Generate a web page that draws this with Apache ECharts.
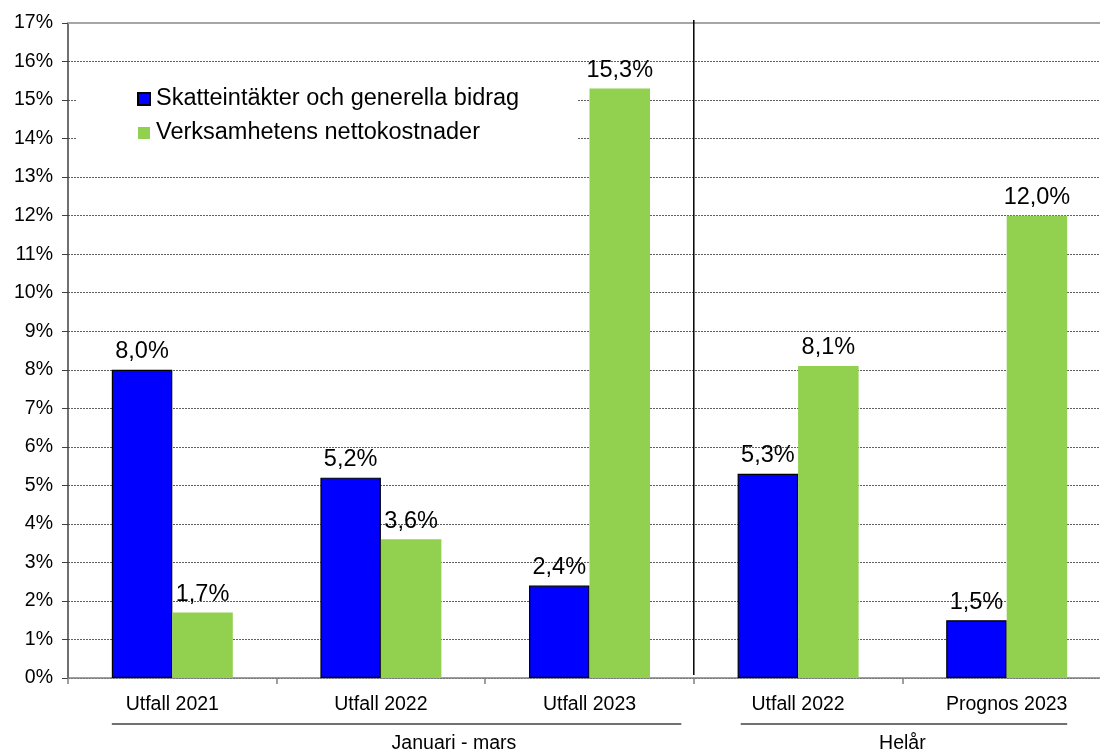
<!DOCTYPE html>
<html>
<head>
<meta charset="utf-8">
<script src="https://cdn.jsdelivr.net/npm/echarts@6/dist/echarts.min.js"></script>
<style>
html,body{margin:0;padding:0;background:#fff;}
#chart{width:1100px;height:752px;}
</style>
</head>
<body>
<div id="chart"></div>
<script>
var categories = ['Utfall 2021', 'Utfall 2022', 'Utfall 2023', 'Utfall 2022', 'Prognos 2023'];
var seriesNames = ['Skatteintäkter och generella bidrag', 'Verksamhetens nettokostnader'];
var skatteintakter = [8.0, 5.2, 2.4, 5.3, 1.5];
var nettokostnader = [1.7, 3.6, 15.3, 8.1, 12.0];
var groupLabels = ['Januari - mars', 'Helår'];
var yMin = 0, yMax = 17, yInterval = 1;

var FONT = 'Liberation Sans, Arial, sans-serif';
var chart = echarts.init(document.getElementById('chart'), null, {renderer: 'canvas'});

function pctLabel(p) { return p.value.toFixed(1).replace('.', ',') + '%'; }

chart.setOption({
  animation: false,
  backgroundColor: '#ffffff',
  textStyle: {fontFamily: FONT},
  grid: {left: 68, width: 1043, top: 23, bottom: 74, containLabel: false, outerBoundsMode: 'none'},
  legend: {
    orient: 'vertical',
    left: 76, top: 81,
    padding: [6, 58, 12, 61],
    backgroundColor: '#ffffff',
    itemWidth: 12, itemHeight: 12, itemGap: 10,
    icon: 'rect',
    textStyle: {fontSize: 23.5, color: '#000', fontFamily: FONT, padding: [0, 0, 0, 1]},
    data: seriesNames
  },
  xAxis: [{
    type: 'category',
    data: categories,
    axisLine: {lineStyle: {color: '#808080', width: 1.5}},
    axisTick: {show: true, length: 6, lineStyle: {color: '#808080', width: 1.5}},
    axisLabel: {fontSize: 19.5, color: '#000', margin: 17, fontFamily: FONT},
    splitLine: {show: false}
  }, {
    type: 'category',
    position: 'top',
    data: categories,
    axisLine: {show: true, lineStyle: {color: '#a6a6a6', width: 2}},
    axisTick: {show: false},
    axisLabel: {show: false},
    splitLine: {show: false}
  }],
  yAxis: {
    type: 'value',
    min: yMin, max: yMax, interval: yInterval,
    axisLine: {show: true, lineStyle: {color: '#404040', width: 1.5}},
    axisTick: {show: true, length: 6, lineStyle: {color: '#404040', width: 1}},
    axisLabel: {fontSize: 19.5, color: '#000', margin: 15, fontFamily: FONT,
      formatter: function (v) { return v + '%'; }},
    splitLine: {show: true, lineStyle: {color: '#606060', width: 1, type: [2, 1]}}
  },
  series: [{
    name: seriesNames[0],
    type: 'bar',
    data: skatteintakter,
    barGap: '0%',
    barCategoryGap: '42%',
    itemStyle: {color: '#0000ff', borderColor: '#000', borderWidth: 1.2},
    label: {show: true, position: 'top', distance: 6, fontSize: 23.5, color: '#000',
      fontFamily: FONT, formatter: pctLabel}
  }, {
    name: seriesNames[1],
    type: 'bar',
    data: nettokostnader,
    barGap: '0%',
    barCategoryGap: '42%',
    itemStyle: {color: '#92d050'},
    label: {show: true, position: 'top', distance: 6, fontSize: 23.5, color: '#000',
      fontFamily: FONT, formatter: pctLabel}
  }]
});

// Annotations positioned from the library's scales
var cx = categories.map(function (c, i) { return chart.convertToPixel({xAxisIndex: 0}, i); });
var bw = cx[1] - cx[0];
var yTop = chart.convertToPixel({yAxisIndex: 0}, yMax);
var yBot = chart.convertToPixel({yAxisIndex: 0}, yMin);
var lineY = yBot + 46;
var textY = yBot + 66;
var sepX = cx[2] + bw / 2;

chart.setOption({
  graphic: [
    {type: 'line', z: 50, shape: {x1: sepX, y1: yTop - 3, x2: sepX, y2: yBot - 3},
      style: {stroke: '#000', lineWidth: 1.5}},
    {type: 'line', z: 50, shape: {x1: cx[0] - 0.29 * bw, y1: lineY, x2: cx[2] + 0.44 * bw, y2: lineY},
      style: {stroke: '#404040', lineWidth: 1.5}},
    {type: 'line', z: 50, shape: {x1: cx[3] - 0.275 * bw, y1: lineY, x2: cx[4] + 0.29 * bw, y2: lineY},
      style: {stroke: '#404040', lineWidth: 1.5}},
    {type: 'text', z: 50, x: cx[1] + 0.35 * bw, y: textY,
      style: {text: groupLabels[0], fontSize: 19.5, fontFamily: FONT, fill: '#000', align: 'center', verticalAlign: 'middle'}},
    {type: 'text', z: 50, x: cx[3] + 0.5 * bw, y: textY,
      style: {text: groupLabels[1], fontSize: 19.5, fontFamily: FONT, fill: '#000', align: 'center', verticalAlign: 'middle'}}
  ]
});
</script>
</body>
</html>
